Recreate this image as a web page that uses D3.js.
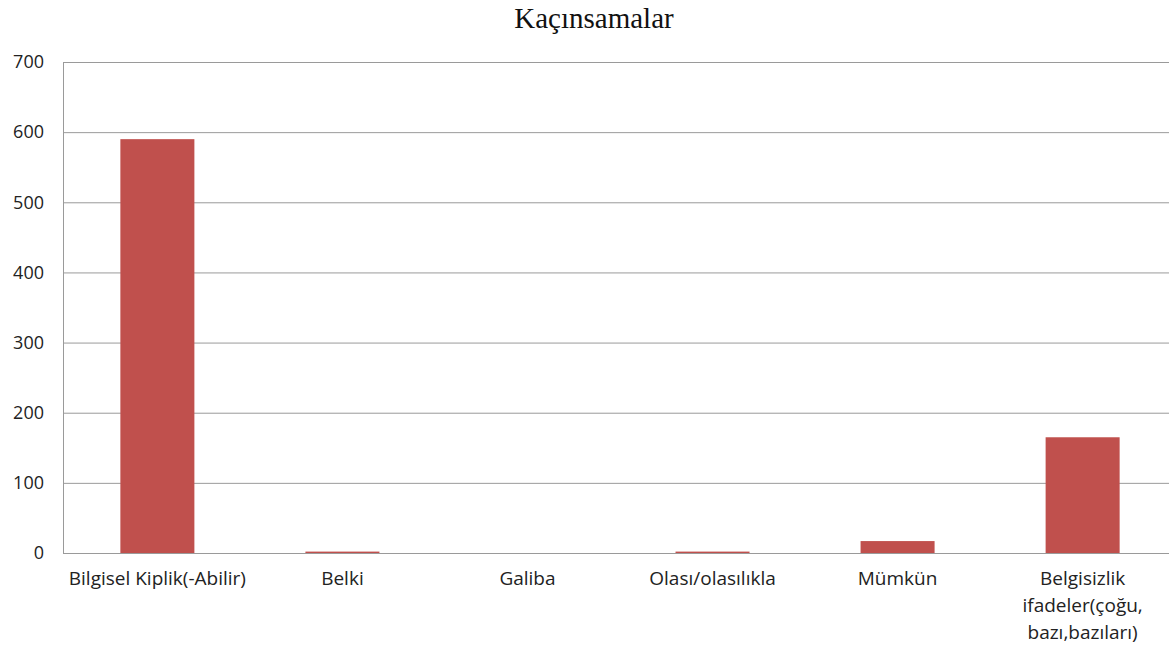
<!DOCTYPE html>
<html>
<head>
<meta charset="utf-8">
<script src="https://cdn.jsdelivr.net/npm/d3@7"></script>
<style>
  body { margin: 0; background: #fff; }
  .tick text { font-family: "Open Sans", Lato, sans-serif; fill: #222; }
  .xaxis .tick text { font-size: 19px; }
  .yaxis .tick text { font-size: 18px; }
</style>
</head>
<body>
<div id="chart"></div>
<script>
// chart data
var categories = ["Bilgisel Kiplik(-Abilir)", "Belki", "Galiba", "Olası/olasılıkla", "Mümkün",
    "Belgisizlik ifadeler(çoğu, bazı,bazıları)"];
var values = [590, 2, 0, 2, 17, 165];
var yTicks = [0, 100, 200, 300, 400, 500, 600, 700];

var W = 1169, H = 648;
var margin = { top: 62, right: 0, bottom: 95, left: 63 },
    width = W - margin.left - margin.right,
    height = H - margin.top - margin.bottom;

var svg = d3.select("#chart")
    .append("svg")
    .attr("width", W)
    .attr("height", H);

// title
svg.append("text")
    .attr("x", 594)
    .attr("y", 28)
    .attr("text-anchor", "middle")
    .style("font-family", "'Liberation Serif', 'Times New Roman', serif")
    .style("font-size", "29px")
    .style("fill", "#111")
    .text("Kaçınsamalar");

var g = svg.append("g")
    .attr("transform", "translate(" + margin.left + "," + margin.top + ")");

// category band runs slightly past the right edge of the window
var x = d3.scaleBand()
    .domain(categories)
    .range([0, width + 8])
    .paddingInner(0.6)
    .paddingOuter(0.31);

var y = d3.scaleLinear()
    .domain([0, 700])
    .range([height, 0]);

// gridlines
g.selectAll(".grid")
    .data(yTicks)
    .enter()
    .append("line")
    .attr("class", "grid")
    .attr("x1", 0)
    .attr("x2", width)
    .attr("y1", d => y(d) + 0.5)
    .attr("y2", d => y(d) + 0.5)
    .attr("stroke", "#9a9a9a")
    .attr("stroke-width", 1);

// y axis
var yAxis = g.append("g")
    .attr("class", "yaxis")
    .call(d3.axisLeft(y).tickValues(yTicks).tickSize(0).tickPadding(19));
yAxis.select(".domain").remove();

g.append("line")
    .attr("x1", 0.5).attr("x2", 0.5)
    .attr("y1", 0).attr("y2", height)
    .attr("stroke", "#9a9a9a");

// bars
g.selectAll(".bar")
    .data(values)
    .enter()
    .append("rect")
    .attr("class", "bar")
    .attr("x", (d, i) => x(categories[i]))
    .attr("y", d => y(d))
    .attr("width", x.bandwidth())
    .attr("height", d => height - y(d))
    .attr("fill", "#c0504d");

// x axis labels
var xAxis = g.append("g")
    .attr("class", "xaxis")
    .attr("transform", "translate(0," + height + ")")
    .call(d3.axisBottom(x).tickSize(0).tickPadding(19));
xAxis.select(".domain").remove();
xAxis.selectAll(".tick text").call(wrap, 186);

function wrap(text, maxWidth) {
    text.each(function() {
        var t = d3.select(this),
            words = t.text().split(/\s+/),
            yAttr = t.attr("y"),
            dy = parseFloat(t.attr("dy")),
            line = [],
            lineNo = 0,
            tspan = t.text(null).append("tspan").attr("x", 0).attr("y", yAttr).attr("dy", dy + "em");
        words.forEach(function(w) {
            line.push(w);
            tspan.text(line.join(" "));
            if (tspan.node().getComputedTextLength() > maxWidth && line.length > 1) {
                line.pop();
                tspan.text(line.join(" "));
                line = [w];
                tspan = t.append("tspan").attr("x", 0).attr("y", yAttr)
                    .attr("dy", (++lineNo * 1.42 + dy) + "em").text(w);
            }
        });
    });
}
</script>
</body>
</html>
